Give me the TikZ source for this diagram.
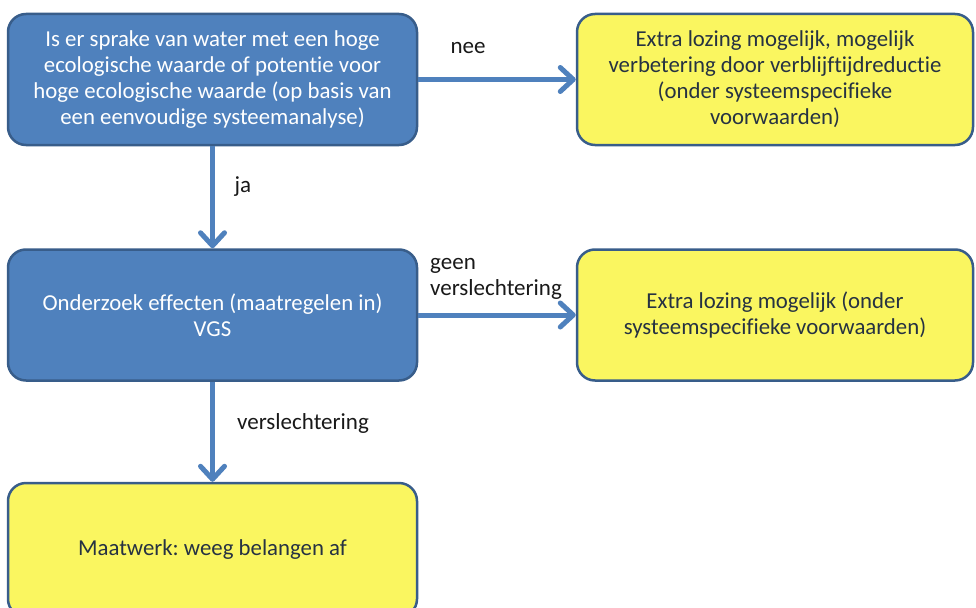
\documentclass[tikz,border=0pt]{standalone}
\usepackage{fontspec}
\setmainfont{Carlito}[Ligatures=NoCommon]
\usetikzlibrary{arrows.meta}
\definecolor{boxblue}{RGB}{79,129,189}
\definecolor{edgeblue}{RGB}{56,93,138}
\definecolor{boxyellow}{RGB}{250,246,96}
\definecolor{inkdark}{RGB}{38,50,66}
\definecolor{labelink}{RGB}{25,25,25}
\frenchspacing
\begin{document}
\begin{tikzpicture}[x=1pt,y=-1pt,
  box/.style={draw=edgeblue, line width=2.5pt, rounded corners=18pt,
    minimum width=409pt, minimum height=131pt, align=center,
    font=\fontsize{22.8pt}{26pt}\selectfont, inner sep=0pt},
  qbox/.style={box, fill=boxblue, text=white},
  abox/.style={box, fill=boxyellow, text=inkdark},
  flow/.style={draw=boxblue, line width=5pt,
    -{Straight Barb[length=13pt, width=24pt, round]}},
  lbl/.style={text=labelink, font=\fontsize{23pt}{25.5pt}\selectfont,
    inner sep=0pt, align=left}]
\useasboundingbox (0,0) rectangle (976,607);
\clip (0,0) rectangle (976,607);
\fill[white] (0,0) rectangle (976,607);

% question and outcome boxes
\node[qbox] (q1) at (212.5,79.5) {Is er sprake van water met een hoge\\
  ecologische waarde of potentie voor\\
  hoge ecologische waarde (op basis van\\
  een eenvoudige systeemanalyse)};
\node[abox, minimum width=396pt] (r1) at (775,79.5) {Extra lozing mogelijk, mogelijk\\
  verbetering door verblijftijdreductie\\
  (onder systeemspecifieke\\
  voorwaarden)};
\node[qbox] (q2) at (212.5,315) {Onderzoek effecten (maatregelen in)\\VGS};
\node[abox, minimum width=396pt] (r2) at (775,315) {Extra lozing mogelijk (onder\\
  systeemspecifieke voorwaarden)};
\node[abox, minimum height=134pt] (r3) at (212.5,550) {Maatwerk: weeg belangen af};

% connectors
\draw[flow] (q1.east) -- (r1.west);
\draw[flow] (q1.south) -- (q2.north);
\draw[flow] (q2.east) -- (r2.west);
\draw[flow] (q2.south) -- (r3.north);

% connector labels
\node[lbl] (lnee) at (468,48) {nee};
\node[lbl] (lja) at (243,187) {ja};
\node[lbl, anchor=west] (lgeen) at (430,279) {geen\\verslechtering};
\node[lbl, anchor=west] (lversl) at (237,423) {verslechtering};
\end{tikzpicture}
\end{document}
